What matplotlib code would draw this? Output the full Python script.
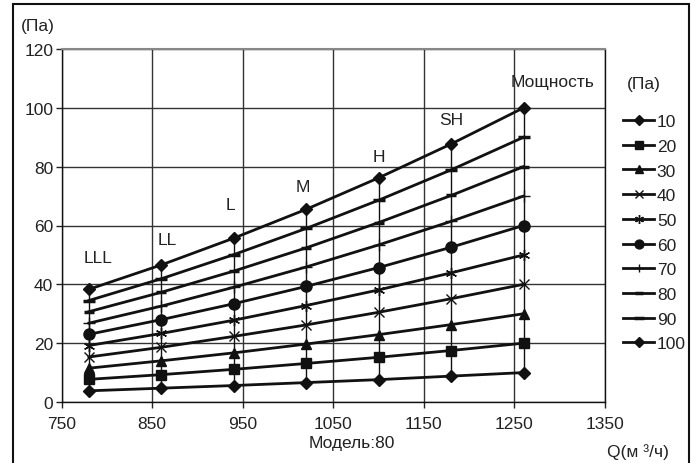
import matplotlib
matplotlib.use("Agg")
import matplotlib.pyplot as plt
from matplotlib.lines import Line2D
from matplotlib.patches import Rectangle

plt.rcParams['font.family'] = ['Liberation Sans', 'DejaVu Sans']

# ---- data ----
flow = [780, 860, 940, 1020, 1100, 1180, 1260]
speed_labels = ["LLL", "LL", "L", "M", "H", "SH", "Мощность"]
series_names = ["10", "20", "30", "40", "50", "60", "70", "80", "90", "100"]
p10 = [3.8, 4.7, 5.6, 6.6, 7.6, 8.8, 10]
p20 = [7.7, 9.3, 11.1, 13.1, 15.2, 17.5, 20]
p30 = [11.5, 14.0, 16.7, 19.7, 22.9, 26.3, 30]
p40 = [15.3, 18.6, 22.3, 26.2, 30.5, 35.1, 40]
p50 = [19.2, 23.3, 27.8, 32.8, 38.1, 43.9, 50]
p60 = [23.0, 28.0, 33.4, 39.3, 45.7, 52.6, 60]
p70 = [26.8, 32.6, 39.0, 45.9, 53.4, 61.4, 70]
p80 = [30.7, 37.3, 44.5, 52.4, 61.0, 70.2, 80]
p90 = [34.5, 41.9, 50.1, 59.0, 68.6, 78.9, 90]
p100 = [38.3, 46.6, 55.7, 65.5, 76.2, 87.7, 100]
series = [p10, p20, p30, p40, p50, p60, p70, p80, p90, p100]
x_ticks = [750, 850, 950, 1050, 1150, 1250, 1350]
y_ticks = [0, 20, 40, 60, 80, 100, 120]

# ---- styles ----
FS = 12.5
markers = ['D', 's', '^', 'x', (6, 2, 0), 'o', '+', '_', '_', 'D']
msizes = [6, 7, 7, 7, 8, 8, 8, 7, 9, 6]
mews = [1, 1, 1, 1, 1, 1, 1, 2.5, 2.5, 1]
label_dx = [9, 6, -3, -3, 0, 0, 29]   # pixel offsets of speed labels
label_dy = [27, 21, 29, 18, 17, 20, 22]

W, H, DPI = 698, 464, 100
fig = plt.figure(figsize=(W / DPI, H / DPI), dpi=DPI)
ax = fig.add_axes([61.7 / W, (H - 403) / H, (605 - 61.7) / W, (403 - 50) / H])

ax.set_xlim(750, 1350)
ax.set_ylim(0, 120)
ax.set_xticks(x_ticks)
ax.set_yticks(y_ticks)
ax.tick_params(axis='both', labelsize=FS, length=4, width=1, color='#222222',
               labelcolor='#222222')
ax.tick_params(axis='x', pad=6)
ax.tick_params(axis='y', pad=2)
ax.grid(True, color='#333333', linewidth=1)
ax.set_axisbelow(True)
for side in ['left', 'bottom', 'right']:
    ax.spines[side].set_color('#111111')
    ax.spines[side].set_linewidth(1)
ax.spines['top'].set_color('#888888')
ax.spines['top'].set_linewidth(1.5)

# vertical drop lines per flow column
ax.vlines(flow, p10, p100, colors='#111111', linewidth=1, zorder=2)

for s, name, m, ms, mw in zip(series, series_names, markers, msizes, mews):
    ax.plot(flow, s, color='#111111', linewidth=2, marker=m, markersize=ms,
            markeredgewidth=mw, markerfacecolor='#111111',
            markeredgecolor='#111111', zorder=3, clip_on=False, label=name)

# speed labels above top series
for x, y, lab, dx, dy in zip(flow, p100, speed_labels, label_dx, label_dy):
    ax.annotate(lab, (x, y), xytext=(dx, dy), textcoords='offset pixels',
                ha='center', va='baseline', fontsize=FS, color='#222222')

leg_handles = [Line2D([0], [0], color='#111111', linewidth=2, marker=m,
                      markersize=ms * 0.8, markeredgewidth=mw,
                      markerfacecolor='#111111', markeredgecolor='#111111')
               for m, ms, mw in zip(markers, msizes, mews)]
leg = fig.legend(leg_handles, series_names, loc='upper left',
                 bbox_to_anchor=(623 / W, 1 - 115 / H), frameon=False,
                 fontsize=FS, handlelength=1.8, handletextpad=0.15,
                 labelspacing=0.55, borderaxespad=0, borderpad=0)
for t in leg.get_texts():
    t.set_color('#222222')

fig.text(644 / W, 1 - 84 / H, "(Па)", fontsize=FS, ha='center', va='center', color='#222222')
fig.text(38 / W, 1 - 27 / H, "(Па)", fontsize=FS, ha='center', va='center', color='#222222')
fig.text(352 / W, 1 - 448 / H, "Модель:80", fontsize=FS, ha='center', va='baseline', color='#222222')
fig.text(638 / W, 1 - 457 / H, "Q(м ³/ч)", fontsize=FS, ha='center', va='baseline', color='#222222')

# outer frame
fig.add_artist(Rectangle((13 / W, -0.05), (689 - 13) / W, (1 - 5 / H) + 0.05,
                         transform=fig.transFigure, fill=False,
                         edgecolor='#111111', linewidth=1.5))

fig.savefig("out.png", dpi=DPI)
